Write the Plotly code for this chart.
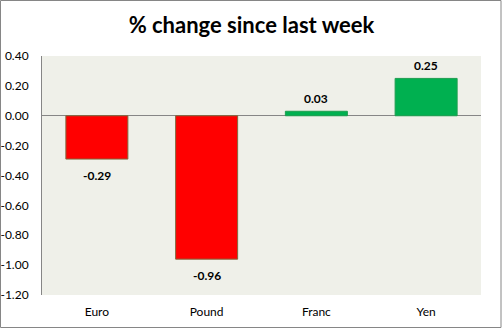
import plotly.graph_objects as go

categories = ["Euro", "Pound", "Franc", "Yen"]
values = [-0.29, -0.96, 0.03, 0.25]
tick_vals = [0.4, 0.2, 0.0, -0.2, -0.4, -0.6, -0.8, -1.0, -1.2]
tick_text = ["0.40", "0.20", "0.00", "-0.20", "-0.40", "-0.60", "-0.80", "-1.00", "-1.20"]
title_text = "% change since last week"

W, H = 503, 329
ML, MR, MT, MB = 42, 22, 56, 34
PW, PH = W - ML - MR, H - MT - MB

fill_colors = ["#FF0000" if v < 0 else "#00B050" for v in values]
line_colors = ["#7F6A3F" if v < 0 else "#1E9E50" for v in values]

fig = go.Figure()
fig.add_trace(go.Bar(
    x=categories, y=values,
    marker=dict(color=fill_colors, line=dict(color=line_colors, width=1)),
    width=0.565,
    hoverinfo="skip",
))

annotations = []
for c, v in zip(categories, values):
    annotations.append(dict(
        x=c, y=v, xref="x", yref="y",
        text="<b>%.2f</b>" % v, showarrow=False,
        yanchor="middle", xanchor="center",
        yshift=13 if v >= 0 else -16,
        font=dict(family="Lato, sans-serif", size=12, color="#000000"),
    ))

fig.update_layout(
    template="none",
    width=W, height=H,
    margin=dict(l=ML, r=MR, t=MT, b=MB, pad=0, autoexpand=False),
    paper_bgcolor="#FFFFFF",
    plot_bgcolor="#EFF0E9",
    showlegend=False,
    title=dict(text="<b>" + title_text + "</b>", x=0.5, xanchor="center",
               y=1 - 25 / H, yanchor="middle",
               font=dict(family="Lato, sans-serif", size=22, color="#000000")),
    font=dict(family="Lato, sans-serif", size=12, color="#000000"),
    annotations=annotations,
    xaxis=dict(showgrid=False, showline=False, zeroline=False, ticks="",
               automargin=False, tickfont=dict(size=12), ticklabelstandoff=8),
    yaxis=dict(range=[-1.2, 0.4], tickvals=tick_vals, ticktext=tick_text,
               automargin=False,
               showgrid=False, zeroline=True, zerolinecolor="#868686", zerolinewidth=1,
               showline=True, linecolor="#868686", linewidth=1, ticks="",
               tickfont=dict(size=12), ticklabelstandoff=10),
    shapes=[dict(type="rect", xref="paper", yref="paper",
                 x0=(-ML + 0.5) / PW, x1=(W - ML - 2) / PW,
                 y0=-(MB - 1.5) / PH, y1=1 + (MT - 0.5) / PH,
                 line=dict(color="#868686", width=1), fillcolor="rgba(0,0,0,0)",
                 layer="above")],
)

fig.write_html("out.html")
